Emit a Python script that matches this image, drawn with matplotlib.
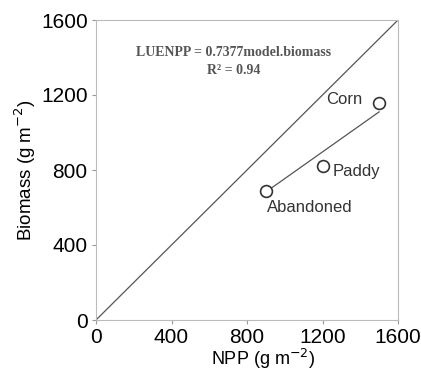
import numpy as np
import matplotlib
matplotlib.use("Agg")
import matplotlib.pyplot as plt

# land use classes: NPP vs modelled biomass
sites = ['Abandoned', 'Paddy', 'Corn']
npp = [900, 1200, 1500]
biomass = [690, 820, 1155]

# regression line end points
fit_x = [910, 1500]
fit_y = [690, 1110]

ticks = [0, 400, 800, 1200, 1600]

plt.rcParams['font.family'] = ['Liberation Sans', 'DejaVu Sans']

fig = plt.figure(figsize=(4.21, 3.74), dpi=100)
ax = fig.add_axes([96/421, 54/374, 302/421, 300/374])

ax.plot([0, 1600], [0, 1600], color='#555555', lw=0.9)
ax.plot(fit_x, fit_y, color='#555555', lw=0.9)
ax.plot(npp, biomass, 'o', mfc='white', mec='#333333', ms=8.5, mew=1.2)

# point labels
ax.text(1220, 1175, 'Corn', fontsize=12, color='#333333', ha='left', va='center')
ax.text(1255, 793, 'Paddy', fontsize=12, color='#333333', ha='left', va='center')
ax.text(1135, 600, 'Abandoned', fontsize=12, color='#333333', ha='center', va='center')

ax.text(730, 1425, 'LUENPP = 0.7377model.biomass', family='Liberation Serif',
        fontsize=10, fontweight='bold', color='#555555', ha='center', va='center')
ax.text(730, 1333, 'R\u00b2 = 0.94', family='Liberation Serif',
        fontsize=10, fontweight='bold', color='#555555', ha='center', va='center')

ax.set_xlim(0, 1600)
ax.set_ylim(0, 1600)
ax.set_xticks(ticks)
ax.set_yticks(ticks)
ax.tick_params(labelsize=15, length=3, width=0.8, color='#999999', pad=3)
for s in ax.spines.values():
    s.set_color('#bbbbbb')
    s.set_linewidth(0.8)

ax.set_xlabel('NPP (g m$^{-2}$)', fontsize=13)
ax.xaxis.set_label_coords(0.553, -0.09)
ax.set_ylabel('Biomass (g m$^{-2}$)', fontsize=13.5, labelpad=2)

fig.savefig('out.png', dpi=100)
